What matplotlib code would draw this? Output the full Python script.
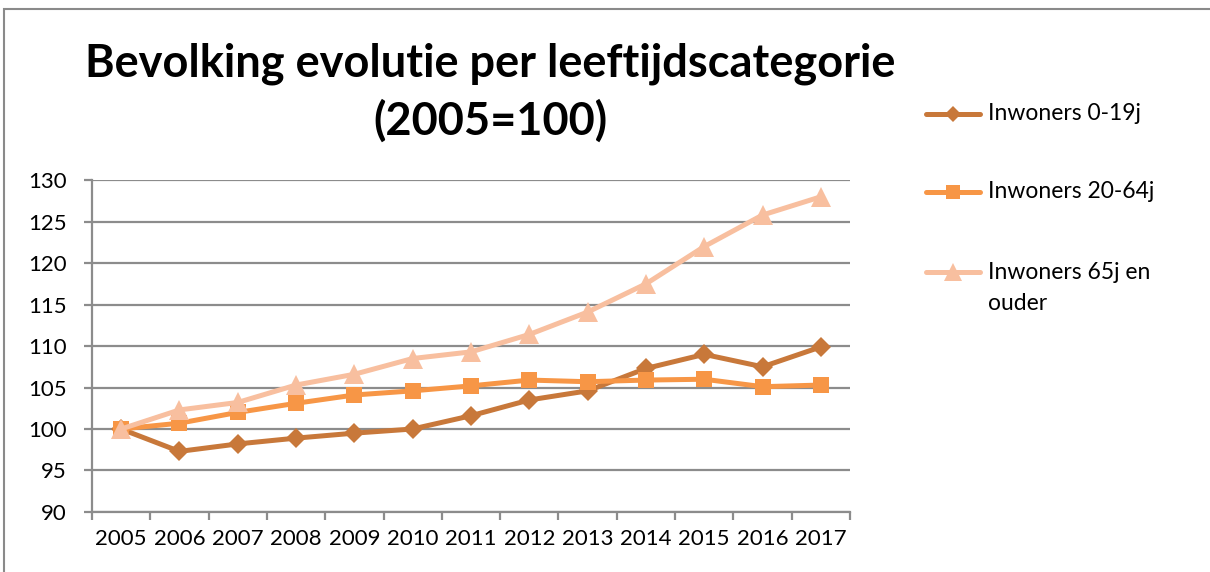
import matplotlib
matplotlib.use("Agg")
import matplotlib.pyplot as plt
from matplotlib.lines import Line2D
from matplotlib.patches import Rectangle
import numpy as np

years = [str(y) for y in range(2005, 2018)]
jong = [100, 97.3, 98.2, 98.9, 99.5, 100.0, 101.6, 103.5, 104.6, 107.3, 109.0, 107.5, 109.9]
actief = [100, 100.7, 102.0, 103.1, 104.1, 104.6, 105.2, 105.9, 105.7, 105.9, 106.0, 105.1, 105.3]
ouder = [100, 102.3, 103.2, 105.3, 106.6, 108.5, 109.3, 111.4, 114.1, 117.5, 122.0, 125.8, 128.0]

labels = ["Inwoners 0-19j", "Inwoners 20-64j", "Inwoners 65j en\nouder"]
colors = ["#C8783A", "#F79646", "#F8BF9F"]
markers = ["D", "s", "^"]
msizes = [10, 12, 15]

plt.rcParams["font.family"] = ["Lato", "DejaVu Sans"]

fig = plt.figure(figsize=(12.1, 5.72), dpi=100)
ax = fig.add_axes([0.076, 0.105, 0.6265, 0.580])

x = np.arange(len(years))
for vals, c, m, ms in zip([jong, actief, ouder], colors, markers, msizes):
    ax.plot(x, vals, color=c, linewidth=3.6, marker=m, markersize=ms,
            markeredgewidth=0, solid_joinstyle="round")

ax.set_xlim(-0.5, len(years) - 0.5)
ax.set_ylim(90, 130)
ax.set_yticks(range(90, 131, 5))
ax.yaxis.grid(True, color="#8c8c8c", linewidth=1.6)
ax.set_axisbelow(True)

ax.set_xticks(np.arange(-0.5, len(years), 1))
ax.set_xticklabels([])
ax.set_xticks(x, minor=True)
ax.set_xticklabels(years, minor=True)
ax.tick_params(axis="x", which="minor", length=0, pad=12, labelsize=16)
ax.tick_params(axis="x", which="major", length=6, width=1.6, color="#8c8c8c")
ax.tick_params(axis="y", length=6, width=1.6, color="#8c8c8c", labelsize=16, pad=12)

for s in ("top", "right"):
    ax.spines[s].set_visible(False)
for s in ("left", "bottom"):
    ax.spines[s].set_color("#8c8c8c")
    ax.spines[s].set_linewidth(1.6)

fig.text(0.405, 1 - 93 / 572, "Bevolking evolutie per leeftijdscategorie\n(2005=100)",
         ha="center", va="center", fontsize=32.5, fontweight="bold",
         linespacing=1.4)

# legend drawn by hand to keep the Excel layout
ly = [1 - 114 / 572, 1 - 192 / 572, 1 - 272 / 572]
for lab, c, m, ms, yy in zip(labels, colors, markers, msizes, ly):
    fig.add_artist(Line2D([926 / 1210, 953 / 1210, 980 / 1210], [yy, yy, yy],
                          transform=fig.transFigure, color=c, linewidth=3.6,
                          marker=m, markersize=ms * 0.85, markeredgewidth=0,
                          markevery=[1], solid_capstyle="round"))
    ty = yy - (16 / 572 if "\n" in lab else 0)
    fig.text(988 / 1210, ty, lab, ha="left", va="center",
             fontsize=16.5, linespacing=1.55)

fig.add_artist(Rectangle((3.5 / 1210, -0.1), 1.5, 1.1 - 9 / 572,
                         transform=fig.transFigure, fill=False,
                         edgecolor="#8a8a8a", linewidth=1.5))

fig.savefig("out.png", dpi=100)
